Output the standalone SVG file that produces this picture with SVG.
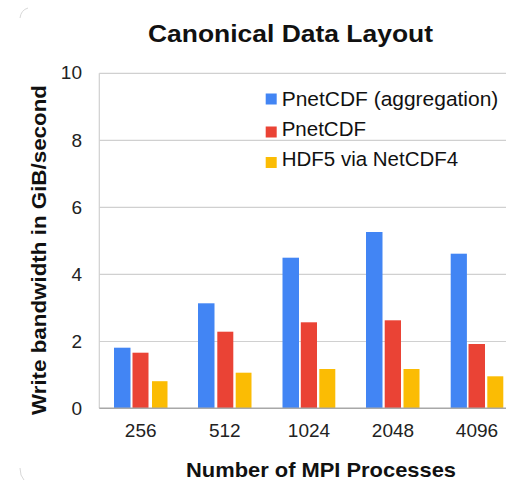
<svg xmlns="http://www.w3.org/2000/svg" width="506" height="480" viewBox="0 0 506 480">
<style>
.grid{stroke:#d0d0d0;stroke-width:1.2;fill:none}
.axis{stroke:#a8a8a8;stroke-width:1.5;fill:none}
.tick{font-family:"Liberation Sans",Arial,sans-serif;font-size:19px;fill:#222}
.ttl{font-family:"Liberation Sans",Arial,sans-serif;font-weight:bold;fill:#111}
.leg{font-family:"Liberation Sans",Arial,sans-serif;font-size:20.5px;fill:#111}
.b{fill:#4285F4}.r{fill:#EA4335}.y{fill:#FBBC04}
.corner{stroke:#d8d8d8;stroke-width:1;fill:none}
</style>
<rect width="506" height="480" fill="#fff"/>
<path class="corner" d="M20,18 Q21,10 28,8"/>
<path class="corner" d="M20,468 Q20,476 24,480"/>
<text class="ttl" x="290.5" y="41.7" font-size="24" text-anchor="middle" textLength="285" lengthAdjust="spacingAndGlyphs">Canonical Data Layout</text>
<g id="gridlines">
<line class="grid" x1="99.3" y1="73.3" x2="506" y2="73.3"/>
<line class="grid" x1="99.3" y1="140.3" x2="506" y2="140.3"/>
<line class="grid" x1="99.3" y1="207.3" x2="506" y2="207.3"/>
<line class="grid" x1="99.3" y1="274.3" x2="506" y2="274.3"/>
<line class="grid" x1="99.3" y1="341.5" x2="506" y2="341.5"/>
<line class="grid" x1="99.3" y1="73.3" x2="99.3" y2="408.3"/>
</g>
<g id="yticks" text-anchor="end">
<text class="tick" x="82" y="79">10</text>
<text class="tick" x="82" y="146.5">8</text>
<text class="tick" x="82" y="213.5">6</text>
<text class="tick" x="82" y="280.5">4</text>
<text class="tick" x="82" y="347.5">2</text>
<text class="tick" x="82" y="414.5">0</text>
</g>
<g id="bars">
<g id="g256">
<rect class="b" x="114" y="347.7" width="16.5" height="60.6"/>
<rect class="r" x="132.5" y="352.7" width="16" height="55.6"/>
<rect class="y" x="152" y="381.2" width="15.5" height="27.1"/>
</g>
<g id="g512">
<rect class="b" x="198" y="303.3" width="16.5" height="105"/>
<rect class="r" x="217.3" y="331.7" width="16" height="76.6"/>
<rect class="y" x="235.7" y="372.7" width="15.8" height="35.6"/>
</g>
<g id="g1024">
<rect class="b" x="282.5" y="257.7" width="16.5" height="150.6"/>
<rect class="r" x="300.8" y="322.3" width="16.2" height="86"/>
<rect class="y" x="319.3" y="369" width="16" height="39.3"/>
</g>
<g id="g2048">
<rect class="b" x="366" y="232" width="16.5" height="176.3"/>
<rect class="r" x="384.7" y="320.3" width="16.3" height="88"/>
<rect class="y" x="403.5" y="369" width="16" height="39.3"/>
</g>
<g id="g4096">
<rect class="b" x="450.7" y="253.7" width="16.2" height="154.6"/>
<rect class="r" x="468.5" y="344" width="16.5" height="64.3"/>
<rect class="y" x="487.3" y="376.3" width="16" height="32"/>
</g>
</g>
<line class="axis" x1="99.3" y1="408.3" x2="506" y2="408.3"/>
<g id="xticks" text-anchor="middle">
<text class="tick" x="140.7" y="436.7">256</text>
<text class="tick" x="224.8" y="436.7">512</text>
<text class="tick" x="309" y="436.7">1024</text>
<text class="tick" x="393" y="436.7">2048</text>
<text class="tick" x="477" y="436.7">4096</text>
</g>
<g id="legend">
<rect class="b" x="265.7" y="93.5" width="11" height="11"/>
<text class="leg" x="281.7" y="106" textLength="216.6" lengthAdjust="spacingAndGlyphs">PnetCDF (aggregation)</text>
<rect class="r" x="265.7" y="126.5" width="11" height="11"/>
<text class="leg" x="281.7" y="136">PnetCDF</text>
<rect class="y" x="265.7" y="157" width="11" height="11"/>
<text class="leg" x="281.7" y="166">HDF5 via NetCDF4</text>
</g>
<text class="ttl" x="321" y="476.7" font-size="21" text-anchor="middle" textLength="270" lengthAdjust="spacingAndGlyphs">Number of MPI Processes</text>
<text class="ttl" transform="translate(46,250) rotate(-90)" x="0" y="0" font-size="21" text-anchor="middle" textLength="330" lengthAdjust="spacingAndGlyphs">Write bandwidth in GiB/second</text>
</svg>
